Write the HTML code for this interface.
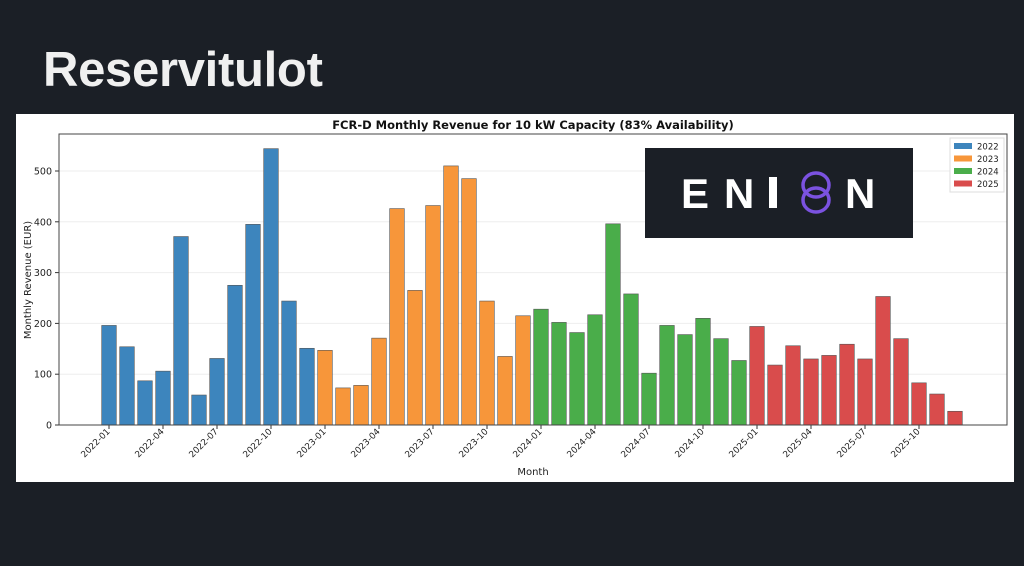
<!DOCTYPE html>
<html><head><meta charset="utf-8"><style>
body{margin:0;width:1024px;height:566px;background:#1b1f26;overflow:hidden;font-family:"Liberation Sans","DejaVu Sans",sans-serif}
h1{position:absolute;left:43px;top:42px;margin:0;color:#f0f0f0;font-size:49px;font-weight:bold;letter-spacing:-0.3px}
svg{position:absolute;left:0;top:0}
</style></head><body>
<h1>Reservitulot</h1>
<svg width="1024" height="566" id="s" font-family="DejaVu Sans, Liberation Sans, sans-serif"></svg>
<script>
const v=[196,154,87,106,371,59,131,275,395,544,244,151,147,73,78,171,426,265,432,510,485,244,135,215,228,202,182,217,396,258,102,196,178,210,170,127,194,118,156,130,137,159,130,253,170,83,61,27];
const c=['#3d85bd','#f7963a','#4aad4a','#d94c4c'];
const y0=425,k=0.508;
let h='<rect x="16" y="114" width="998" height="368" fill="#fff"/>';
for(let t=100;t<=500;t+=100){let y=y0-t*k;h+=`<line x1="59" x2="1007" y1="${y}" y2="${y}" stroke="#eee" stroke-width="1"/>`;}
for(let t=0;t<=500;t+=100){let y=y0-t*k;h+=`<line x1="55" x2="59" y1="${y}" y2="${y}" stroke="#333"/><text x="52" y="${y+3.5}" font-size="9.5" text-anchor="end" fill="#222">${t}</text>`;}
v.forEach((d,i)=>{let x=109+18*i;h+=`<rect x="${x-7.3}" y="${y0-d*k}" width="14.6" height="${d*k}" fill="${c[Math.floor(i/12)]}" stroke="#555" stroke-width="0.6"/>`;});
for(let i=0;i<48;i+=3){let x=109+18*i,yr=2022+Math.floor(i/12),m=String(i%12+1).padStart(2,'0');
h+=`<line x1="${x}" x2="${x}" y1="425" y2="429" stroke="#333"/><text transform="translate(${x+1.5},${432}) rotate(-45)" font-size="8.8" text-anchor="end" fill="#222">${yr}-${m}</text>`;}
h+='<rect x="59" y="134" width="948" height="291" fill="none" stroke="#444" stroke-width="1"/>';
h+='<text x="533" y="129" font-size="11.5" font-weight="bold" text-anchor="middle" fill="#111">FCR-D Monthly Revenue for 10 kW Capacity (83% Availability)</text>';
h+='<text x="533" y="475" font-size="10" text-anchor="middle" fill="#222">Month</text>';
h+='<text transform="translate(31,280) rotate(-90)" font-size="10" text-anchor="middle" fill="#222">Monthly Revenue (EUR)</text>';
h+='<rect x="950" y="138" width="54" height="54" fill="#fff" stroke="#ddd"/>';
['2022','2023','2024','2025'].forEach((t,i)=>{let y=142+i*12.5;h+=`<rect x="954" y="${y+1}" width="18" height="6" fill="${c[i]}"/><text x="977" y="${y+7.5}" font-size="8.5" fill="#222">${t}</text>`;});
h+='<rect x="645" y="148" width="268" height="90" fill="#1b1f26"/>';
h+='<g font-family="Liberation Sans,sans-serif" font-size="42" font-weight="bold" fill="#fff"><text x="681" y="208">E</text><text x="724" y="208">N</text><text x="845" y="208">N</text></g><rect x="769" y="177" width="8" height="31" fill="#fff"/>';
h+='<ellipse cx="816" cy="185" rx="13" ry="12" fill="none" stroke="#7b52e0" stroke-width="3.5"/><ellipse cx="816" cy="200" rx="13" ry="12" fill="none" stroke="#7b52e0" stroke-width="3.5"/>';
document.getElementById('s').innerHTML=h;
</script>
</body></html>
